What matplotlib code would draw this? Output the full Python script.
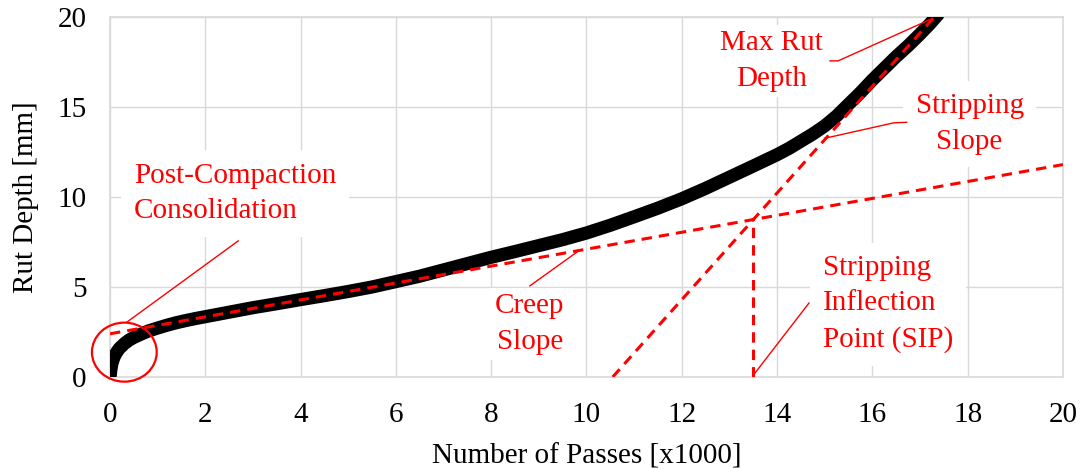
import matplotlib
matplotlib.use("Agg")
import matplotlib.pyplot as plt
from matplotlib.patches import Ellipse

plt.rcParams["font.family"] = ["Liberation Serif", "DejaVu Serif"]

# Measured rut depth curve (passes in thousands, rut depth in mm)
passes = [0.0, 0.02, 0.04, 0.07, 0.1, 0.15, 0.2, 0.3, 0.4, 0.5, 0.65, 0.8,
          1.0, 1.2, 1.4, 1.6, 1.8, 2.0, 2.5, 3.0, 3.5, 4.0, 4.5, 5.0, 5.5,
          6.0, 6.5, 7.0, 7.5, 8.0, 8.5, 9.0, 9.5, 10.0, 10.5, 11.0, 11.5,
          12.0, 12.5, 13.0, 13.5, 14.0, 14.25, 14.5, 14.75, 15.0, 15.25,
          15.5, 15.75, 16.0, 16.25, 16.5, 16.75, 17.0, 17.2, 17.4]
rut_depth = [0.0, 0.45, 0.75, 1.0, 1.2, 1.42, 1.6, 1.85, 2.05, 2.2, 2.38,
             2.55, 2.72, 2.88, 3.02, 3.14, 3.25, 3.35, 3.6, 3.85, 4.07, 4.3,
             4.52, 4.75, 5.0, 5.3, 5.6, 5.95, 6.3, 6.65, 6.97, 7.3, 7.63,
             8.0, 8.43, 8.9, 9.38, 9.9, 10.48, 11.1, 11.72, 12.35, 12.7,
             13.1, 13.5, 13.95, 14.5, 15.15, 15.8, 16.5, 17.15, 17.8, 18.4,
             19.05, 19.6, 20.2]

# Fitted tangent lines
creep_x = [0.0, 20.0]
creep_y = [2.4, 11.8]
strip_x = [10.55, 17.3]
strip_y = [0.0, 20.0]

x_ticks = list(range(0, 21, 2))
y_ticks = list(range(0, 21, 5))

RED = "#ff0000"
GRID = "#d9d9d9"
FS = 21

fig = plt.figure(figsize=(10.83, 4.69), dpi=100)
ax = fig.add_axes([0.1016, 0.1962, 0.8799, 0.7676])

ax.plot(passes, rut_depth, color="black", lw=9.5, solid_capstyle="butt",
        solid_joinstyle="round", zorder=3)

dash = (0, (3.4, 2.3))
ax.plot(creep_x, creep_y, color=RED, lw=2.2, ls=dash, zorder=4)
ax.plot(strip_x, strip_y, color=RED, lw=2.2, ls=dash, zorder=4)

# Stripping inflection point: intersection of the two tangents
m1 = (creep_y[1] - creep_y[0]) / (creep_x[1] - creep_x[0])
m2 = (strip_y[1] - strip_y[0]) / (strip_x[1] - strip_x[0])
sip_x = (strip_y[0] - m2 * strip_x[0] - creep_y[0] + m1 * creep_x[0]) / (m1 - m2)
sip_y = creep_y[0] + m1 * (sip_x - creep_x[0])
ax.plot([sip_x, sip_x], [0, sip_y], color=RED, lw=2.2, ls=dash, zorder=4)

# Highlight of the initial consolidation zone
ax.add_patch(Ellipse((0.3, 1.38), 1.36, 3.28, fill=False, ec=RED, lw=1.6,
                     zorder=6, clip_on=False))

box = dict(fc="white", ec="none", pad=9)
txt = dict(color=RED, fontsize=FS, linespacing=1.48, zorder=5, bbox=box)
lead = dict(color=RED, lw=1.0, zorder=5, clip_on=False)

ax.text(0.5, 10.2, "Post-Compaction\nConsolidation", ha="left", va="center", **txt)
ax.plot([2.69, 0.36], [7.56, 3.06], **lead)

ax.text(8.81, 2.95, "Creep\nSlope", ha="center", va="center",
        **{**txt, "bbox": dict(fc="white", ec="none", pad=4)})
ax.plot([8.81, 9.80], [5.06, 6.94], **lead)

ax.text(13.89, 17.55, "Max Rut\nDepth", ha="center", va="center",
        **{**txt, "bbox": dict(fc="white", ec="none", pad=4)})
ax.plot([15.11, 15.28, 17.27], [17.56, 17.56, 19.93], **lead)

ax.text(18.04, 14.05, "Stripping\nSlope", ha="center", va="center", **txt)
ax.plot([16.72, 16.45, 15.0], [14.15, 14.12, 13.26], **lead)

ax.text(14.96, 4.05, "Stripping\nInflection\nPoint (SIP)", ha="left",
        va="center", **txt)
ax.plot([14.67, 13.49], [4.11, 0.06], **lead)

ax.set_xlim(0, 20)
ax.set_ylim(0, 20)
ax.set_xticks(x_ticks)
ax.set_yticks(y_ticks)
ax.grid(True, color=GRID, lw=1.0, zorder=0)
ax.set_axisbelow(True)
for s in ax.spines.values():
    s.set_color(GRID)
    s.set_linewidth(1.2)
ax.tick_params(length=0, labelsize=FS)
ax.tick_params(axis="x", pad=18)
ax.tick_params(axis="y", pad=17)
ax.set_xlabel("Number of Passes [x1000]", fontsize=FS, labelpad=11)
ax.set_ylabel("Rut Depth [mm]", fontsize=FS, labelpad=13)

fig.savefig("out.png", dpi=100)
